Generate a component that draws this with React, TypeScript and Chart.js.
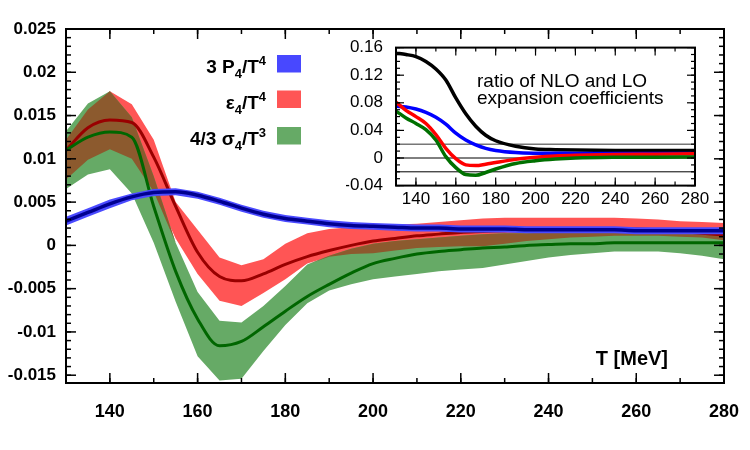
import React, { useEffect, useRef } from "react";
import { Chart, registerables } from "chart.js";

Chart.register(...registerables);

const FONT = '"Liberation Sans", Arial, Helvetica, sans-serif';

// Temperature nodes of the main-panel curves and error bands (MeV)
const T_MEV = [
  130, 135, 140, 145, 150, 155, 160, 165, 170, 175, 180, 185, 190, 195, 200, 205,
  210, 215, 220, 225, 230, 235, 240, 245, 250, 255, 260, 265, 270, 275, 280,
];

// 3 P4/T^4
const P4_MID = [
  0.0028, 0.0038, 0.0048, 0.0056, 0.0061, 0.0062, 0.0058, 0.0051, 0.0043, 0.0036, 0.0031,
  0.0028, 0.0025, 0.0023, 0.0022, 0.0021, 0.002, 0.002, 0.0019, 0.0019, 0.0019, 0.0018,
  0.0018, 0.0018, 0.0018, 0.0018, 0.0017, 0.0017, 0.0017, 0.0017, 0.0017,
];
const P4_HI = [
  0.0033, 0.0043, 0.0053, 0.006, 0.0065, 0.0066, 0.0062, 0.0055, 0.0047, 0.004, 0.0035,
  0.0032, 0.0029, 0.0027, 0.0026, 0.0025, 0.0024, 0.0024, 0.0023, 0.0023, 0.0023, 0.0022,
  0.0022, 0.0022, 0.0022, 0.0022, 0.0021, 0.0021, 0.0021, 0.0021, 0.0021,
];
const P4_LO = [
  0.0023, 0.0033, 0.0043, 0.0052, 0.0057, 0.0058, 0.0054, 0.0047, 0.0039, 0.0032, 0.0027,
  0.0024, 0.0021, 0.0019, 0.0018, 0.0017, 0.0016, 0.0016, 0.0015, 0.0015, 0.0015, 0.0014,
  0.0014, 0.0014, 0.0014, 0.0014, 0.0013, 0.0013, 0.0013, 0.0013, 0.0013,
];

// epsilon4/T^4
const EPS_MID = [
  0.011, 0.0136, 0.0145, 0.0142, 0.0102, 0.0045, -0.0008, -0.0036, -0.0041, -0.0033, -0.0022,
  -0.0013, -0.0006, 0.0, 0.0005, 0.0008, 0.0011, 0.0013, 0.0015, 0.0016, 0.0017, 0.0018,
  0.0018, 0.0019, 0.0019, 0.0019, 0.0019, 0.0018, 0.0016, 0.0014, 0.0012,
];
const EPS_HI = [
  0.0122, 0.0157, 0.0178, 0.0163, 0.0122, 0.005, 0.0018, -0.0014, -0.0023, -0.0016, 0.0002,
  0.0014, 0.0019, 0.0021, 0.0022, 0.0024, 0.0025, 0.0027, 0.0029, 0.0031, 0.0032, 0.0032,
  0.0032, 0.0032, 0.0032, 0.0032, 0.0031, 0.003, 0.0028, 0.0027, 0.0026,
];
const EPS_LO = [
  0.0076, 0.0099, 0.0111, 0.01, 0.0062, 0.0008, -0.0033, -0.0064, -0.007, -0.0055, -0.0039,
  -0.0021, -0.0013, -0.001, -0.0009, -0.0006, -0.0003, -0.0002, -0.0001, -0.0001, 0.0002,
  0.0005, 0.0007, 0.0009, 0.001, 0.0011, 0.0011, 0.0011, 0.001, 0.0009, 0.0006,
];

// 4/3 sigma4/T^3
const SIG_MID = [
  0.011, 0.0125, 0.0131, 0.0125, 0.0045, -0.003, -0.0085, -0.0116, -0.0111, -0.0094, -0.0076,
  -0.0059, -0.0045, -0.0032, -0.0021, -0.0015, -0.001, -0.0007, -0.0005, -0.0003, -0.0002,
  0.0, 0.0001, 0.0002, 0.0002, 0.0003, 0.0003, 0.0003, 0.0003, 0.0003, 0.0003,
];
const SIG_HI = [
  0.0132, 0.0164, 0.0178, 0.0148, 0.008, 0.0003, -0.0054, -0.0087, -0.0089, -0.007, -0.0047,
  -0.0022, -0.0012, -0.0004, 0.0002, 0.0005, 0.0007, 0.0009, 0.0011, 0.0013, 0.0014, 0.0014,
  0.0015, 0.0015, 0.0016, 0.0016, 0.0016, 0.0016, 0.0016, 0.0015, 0.0015,
];
const SIG_LO = [
  0.0065, 0.0082, 0.0088, 0.006, 0.0003, -0.0065, -0.0128, -0.0156, -0.0154, -0.0122, -0.0092,
  -0.0067, -0.0052, -0.0045, -0.0039, -0.0036, -0.0033, -0.003, -0.0028, -0.0026, -0.0022,
  -0.0018, -0.0014, -0.0011, -0.0009, -0.0007, -0.0007, -0.0007, -0.0009, -0.0012, -0.0016,
];

const X_TICKS = [140, 160, 180, 200, 220, 240, 260, 280];
const Y_TICKS = [-0.015, -0.01, -0.005, 0, 0.005, 0.01, 0.015, 0.02, 0.025];
const Y_TICK_LABELS = ["-0.015", "-0.01", "-0.005", "0", "0.005", "0.01", "0.015", "0.02", "0.025"];

// Inset: ratio of NLO and LO expansion coefficients
const INSET_T = [130, 135, 140, 145, 150, 155, 160, 165, 170, 175, 180, 190, 200, 210, 220, 240, 260, 280];
const RATIO_BLACK = [0.152, 0.15, 0.147, 0.14, 0.129, 0.113, 0.087, 0.064, 0.046, 0.033, 0.025, 0.017, 0.013, 0.012, 0.0115, 0.011, 0.011, 0.011];
const RATIO_P = [0.075, 0.074, 0.071, 0.066, 0.059, 0.049, 0.036, 0.026, 0.019, 0.014, 0.011, 0.008, 0.007, 0.0068, 0.0066, 0.0065, 0.0065, 0.0065];
const RATIO_EPS = [0.081, 0.069, 0.06, 0.05, 0.034, 0.014, -0.001, -0.01, -0.011, -0.009, -0.0065, -0.002, 0.001, 0.003, 0.004, 0.005, 0.0055, 0.006];
const RATIO_SIG = [0.068, 0.058, 0.05, 0.041, 0.026, 0.002, -0.014, -0.024, -0.025, -0.021, -0.016, -0.008, -0.004, -0.0015, 0.0, 0.001, 0.0012, 0.0015];
const INSET_X_TICKS = [140, 160, 180, 200, 220, 240, 260, 280];
const INSET_Y_TICKS = [-0.04, 0, 0.04, 0.08, 0.12, 0.16];
const INSET_Y_LABELS = ["-0.04", "0", "0.04", "0.08", "0.12", "0.16"];
const INSET_REF_LINES = [0.02, 0, -0.02];
const INSET_TEXT = ["ratio of NLO and LO", "expansion coefficients"];

type Seg = { t: string; k: "n" | "sub" | "sup" };
const LEGEND: { segs: Seg[]; color: string }[] = [
  { segs: [{ t: "3 P", k: "n" }, { t: "4", k: "sub" }, { t: "/T", k: "n" }, { t: "4", k: "sup" }], color: "#4848ff" },
  { segs: [{ t: "ε", k: "n" }, { t: "4", k: "sub" }, { t: "/T", k: "n" }, { t: "4", k: "sup" }], color: "#ff5555" },
  { segs: [{ t: "4/3 σ", k: "n" }, { t: "4", k: "sub" }, { t: "/T", k: "n" }, { t: "3", k: "sup" }], color: "#66aa66" },
];

const COLORS = {
  epsBand: "#ff5555",
  sigBand: "#66aa66",
  overlap: "#8c5a2e",
  pBand: "#4a4aff",
  pLine: "#000090",
  epsLine: "#990000",
  sigLine: "#006600",
};

const pts = (xs: number[], ys: number[]) => xs.map((x, i) => ({ x, y: ys[i] }));

const range = (a: number, b: number, step: number) => {
  const out: number[] = [];
  const n = Math.round((b - a) / step);
  for (let i = 0; i <= n; i++) out.push(+(a + i * step).toFixed(6));
  return out;
};

function drawFrame(chart: any, cfg: any) {
  const { ctx, chartArea: a, scales } = chart;
  const xs = scales.x;
  const ys = scales.y;
  ctx.save();
  ctx.strokeStyle = "#000";
  const seg = (x1: number, y1: number, x2: number, y2: number) => {
    ctx.beginPath();
    ctx.moveTo(x1, y1);
    ctx.lineTo(x2, y2);
    ctx.stroke();
  };
  ctx.lineWidth = cfg.tickWidth;
  const xt = (vals: number[], len: number) => {
    for (const v of vals) {
      if (v < xs.min || v > xs.max) continue;
      const p = xs.getPixelForValue(v);
      seg(p, a.bottom, p, a.bottom - len);
      seg(p, a.top, p, a.top + len);
    }
  };
  const yt = (vals: number[], len: number) => {
    for (const v of vals) {
      if (v < ys.min || v > ys.max) continue;
      const p = ys.getPixelForValue(v);
      seg(a.left, p, a.left + len, p);
      seg(a.right, p, a.right - len, p);
    }
  };
  xt(cfg.xMinor, cfg.minor);
  xt(cfg.xMajor, cfg.major);
  yt(cfg.yMinor, cfg.minor);
  yt(cfg.yMajor, cfg.major);
  ctx.lineWidth = cfg.frameWidth;
  ctx.strokeRect(a.left, a.top, a.right - a.left, a.bottom - a.top);
  ctx.restore();
}

function drawRich(ctx: CanvasRenderingContext2D, segs: Seg[], right: number, base: number) {
  const big = `bold 19px ${FONT}`;
  const small = `bold 13px ${FONT}`;
  let total = 0;
  for (const s of segs) {
    ctx.font = s.k === "n" ? big : small;
    total += ctx.measureText(s.t).width;
  }
  let x = right - total;
  for (const s of segs) {
    ctx.font = s.k === "n" ? big : small;
    const dy = s.k === "sub" ? 5 : s.k === "sup" ? -8 : 0;
    ctx.fillText(s.t, x, base + dy);
    x += ctx.measureText(s.t).width;
  }
}

const mainDecor = {
  id: "mainDecor",
  afterDraw(chart: any) {
    drawFrame(chart, {
      xMajor: X_TICKS,
      xMinor: range(130, 280, 10),
      yMajor: Y_TICKS,
      yMinor: range(-0.015, 0.025, 0.001),
      major: 10,
      minor: 5,
      tickWidth: 1.5,
      frameWidth: 2,
    });
    const { ctx, chartArea: a } = chart;
    ctx.save();
    ctx.fillStyle = "#000";
    ctx.textBaseline = "alphabetic";
    ctx.textAlign = "left";
    const rows = [73, 108.5, 145];
    LEGEND.forEach((e, i) => {
      drawRich(ctx, e.segs, a.left + 200, rows[i]);
      ctx.fillStyle = e.color;
      ctx.fillRect(a.left + 211, rows[i] - 18, 24, 17.5);
      ctx.fillStyle = "#000";
    });
    ctx.font = `bold 20px ${FONT}`;
    ctx.textAlign = "right";
    ctx.fillText("T [MeV]", a.right - 56, 365);
    ctx.restore();
  },
};

const insetDecor = {
  id: "insetDecor",
  beforeDraw(chart: any) {
    const { ctx, chartArea: a } = chart;
    ctx.save();
    ctx.fillStyle = "#fff";
    ctx.fillRect(a.left, a.top, a.right - a.left, a.bottom - a.top);
    ctx.restore();
  },
  beforeDatasetsDraw(chart: any) {
    const { ctx, chartArea: a, scales } = chart;
    ctx.save();
    INSET_REF_LINES.forEach((v) => {
      const p = scales.y.getPixelForValue(v);
      ctx.strokeStyle = v > 0 ? "#777" : "#000";
      ctx.lineWidth = v > 0 ? 1.5 : 1;
      ctx.beginPath();
      ctx.moveTo(a.left, p);
      ctx.lineTo(a.right, p);
      ctx.stroke();
    });
    ctx.restore();
  },
  afterDraw(chart: any) {
    drawFrame(chart, {
      xMajor: INSET_X_TICKS,
      xMinor: range(130, 280, 10),
      yMajor: INSET_Y_TICKS,
      yMinor: range(-0.04, 0.16, 0.01),
      major: 8,
      minor: 4,
      tickWidth: 1.2,
      frameWidth: 2,
    });
    const { ctx, chartArea: a } = chart;
    ctx.save();
    ctx.fillStyle = "#000";
    ctx.font = `19px ${FONT}`;
    ctx.textAlign = "left";
    ctx.textBaseline = "alphabetic";
    ctx.fillText(INSET_TEXT[0], a.left + 81, 87);
    ctx.fillText(INSET_TEXT[1], a.left + 81, 104);
    ctx.restore();
  },
};

function bandSets(hi: number[], lo: number[], color: string, order: number) {
  return [
    {
      data: pts(T_MEV, hi),
      fill: "+1",
      backgroundColor: color,
      borderColor: "rgba(0,0,0,0)",
      borderWidth: 0,
      pointRadius: 0,
      tension: 0,
      order,
    },
    {
      data: pts(T_MEV, lo),
      fill: false,
      borderColor: "rgba(0,0,0,0)",
      borderWidth: 0,
      pointRadius: 0,
      tension: 0,
      order,
    },
  ];
}

function lineSet(xs: number[], ys: number[], color: string, width: number, order: number) {
  return {
    data: pts(xs, ys),
    fill: false,
    borderColor: color,
    borderWidth: width,
    pointRadius: 0,
    cubicInterpolationMode: "monotone",
    order,
  };
}

export default function App() {
  const mainRef = useRef<HTMLCanvasElement>(null);
  const insetRef = useRef<HTMLCanvasElement>(null);

  useEffect(() => {
    const overlapHi = EPS_HI.map((v, i) => Math.min(v, SIG_HI[i]));
    const overlapLo = EPS_LO.map((v, i) => Math.min(Math.max(v, SIG_LO[i]), overlapHi[i]));

    const main = new Chart(mainRef.current as HTMLCanvasElement, {
      type: "line",
      data: {
        datasets: [
          ...bandSets(EPS_HI, EPS_LO, COLORS.epsBand, 10),
          ...bandSets(SIG_HI, SIG_LO, COLORS.sigBand, 9),
          ...bandSets(overlapHi, overlapLo, COLORS.overlap, 8),
          lineSet(T_MEV, EPS_MID, COLORS.epsLine, 3, 5),
          lineSet(T_MEV, SIG_MID, COLORS.sigLine, 3, 4),
          ...bandSets(P4_HI, P4_LO, COLORS.pBand, 3),
          lineSet(T_MEV, P4_MID, COLORS.pLine, 3.5, 2),
        ] as any,
      },
      options: {
        responsive: false,
        animation: false,
        events: [],
        layout: { padding: { left: 8, top: 29, right: 26, bottom: 0 } },
        plugins: { legend: { display: false }, tooltip: { enabled: false } },
        scales: {
          x: {
            type: "linear",
            min: 130,
            max: 280,
            grid: { display: false, drawTicks: false },
            border: { display: false },
            afterBuildTicks: (s: any) => {
              s.ticks = X_TICKS.map((value) => ({ value }));
            },
            afterFit: (s: any) => {
              s.height = 67;
            },
            ticks: {
              autoSkip: false,
              maxRotation: 0,
              padding: 10,
              color: "#000",
              font: { family: FONT, size: 18, weight: "bold", lineHeight: 2.1 },
              callback: (v: any) => String(v),
            },
          },
          y: {
            type: "linear",
            min: -0.0159,
            max: 0.025,
            grid: { display: false, drawTicks: false },
            border: { display: false },
            afterBuildTicks: (s: any) => {
              s.ticks = Y_TICKS.map((value) => ({ value }));
            },
            afterFit: (s: any) => {
              s.width = 58;
            },
            ticks: {
              autoSkip: false,
              padding: 10,
              color: "#000",
              font: { family: FONT, size: 17, weight: "bold" },
              callback: (_v: any, i: number) => Y_TICK_LABELS[i],
            },
          },
        },
      } as any,
      plugins: [mainDecor],
    });

    const inset = new Chart(insetRef.current as HTMLCanvasElement, {
      type: "line",
      data: {
        datasets: [
          lineSet(INSET_T, RATIO_BLACK, "#000000", 3.5, 4),
          lineSet(INSET_T, RATIO_P, "#0000ff", 3.5, 3),
          lineSet(INSET_T, RATIO_EPS, "#ff0000", 3.5, 2),
          lineSet(INSET_T, RATIO_SIG, "#007000", 3.5, 1),
        ] as any,
      },
      options: {
        responsive: false,
        animation: false,
        events: [],
        layout: { padding: { left: 346, top: 47.6, right: 55, bottom: 234.4 } },
        plugins: { legend: { display: false }, tooltip: { enabled: false } },
        scales: {
          x: {
            type: "linear",
            min: 130,
            max: 280,
            grid: { display: false, drawTicks: false },
            border: { display: false },
            afterBuildTicks: (s: any) => {
              s.ticks = INSET_X_TICKS.map((value) => ({ value }));
            },
            afterFit: (s: any) => {
              s.height = 30;
            },
            ticks: {
              autoSkip: false,
              maxRotation: 0,
              padding: 4,
              color: "#000",
              font: { family: FONT, size: 17 },
              callback: (v: any) => String(v),
            },
          },
          y: {
            type: "linear",
            min: -0.04,
            max: 0.16,
            grid: { display: false, drawTicks: false },
            border: { display: false },
            afterBuildTicks: (s: any) => {
              s.ticks = INSET_Y_TICKS.map((value) => ({ value }));
            },
            afterFit: (s: any) => {
              s.width = 50;
            },
            ticks: {
              autoSkip: false,
              padding: 13,
              color: "#000",
              font: { family: FONT, size: 17 },
              callback: (_v: any, i: number) => INSET_Y_LABELS[i],
            },
          },
        },
      } as any,
      plugins: [insetDecor],
    });

    return () => {
      main.destroy();
      inset.destroy();
    };
  }, []);

  const layer: React.CSSProperties = { position: "absolute", left: 0, top: 0 };
  return (
    <div style={{ position: "fixed", left: 0, top: 0, width: 750, height: 450, background: "#fff" }}>
      <canvas ref={mainRef} width={750} height={450} style={layer} />
      <canvas ref={insetRef} width={750} height={450} style={layer} />
    </div>
  );
}
